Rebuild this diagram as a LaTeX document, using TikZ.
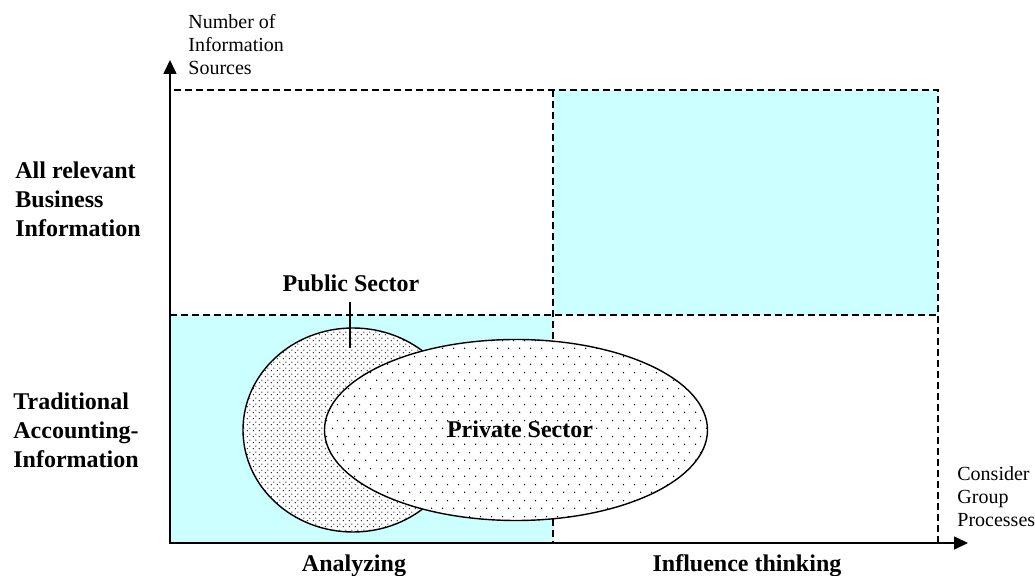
\documentclass[tikz,border=0pt]{standalone}
\usepackage{fontspec}
\setmainfont{Liberation Serif}
\usepackage{xcolor}
\usepackage{tikz}
\usetikzlibrary{arrows.meta, patterns.meta, shapes.geometric}

\definecolor{paleCyan}{RGB}{204,255,255}

% dot fillings for the two sectors
\tikzdeclarepattern{
  name=densedots,
  bottom left={(0pt,0pt)}, top right={(3pt,3pt)}, tile size={(3pt,3pt)},
  code={\fill (0.75pt,0.75pt) circle (0.42pt); \fill (2.25pt,2.25pt) circle (0.42pt);}
}
\tikzdeclarepattern{
  name=sparsedots,
  bottom left={(0pt,0pt)}, top right={(5.5pt,8pt)}, tile size={(5.5pt,8pt)},
  code={\fill (1.4pt,2pt) circle (0.4pt); \fill (4.1pt,6pt) circle (0.4pt);}
}

\begin{document}
\begin{tikzpicture}[
    x=0.5pt, y=-0.5pt,
    cell/.style={fill=paleCyan, draw=none},
    gridline/.style={dashed, dash pattern=on 3.5pt off 2pt, line width=0.6pt, draw=black},
    axis/.style={line width=0.8pt, -{Triangle[length=7pt,width=6.5pt]}},
    sector/.style={ellipse, draw=black, line width=0.7pt, inner sep=0pt, preaction={fill=white}},
    biglabel/.style={font=\fontsize{12}{14.5}\selectfont\bfseries, inner sep=0pt},
    smalllabel/.style={font=\fontsize{10}{11.5}\selectfont, align=left, inner sep=0pt}
]
    \useasboundingbox (0,0) rectangle (1035,576);

    % Quadrants
    \fill[cell] (553,90) rectangle (938,315);
    \fill[cell] (170,315) rectangle (553,543);
    \draw[gridline] (170,90) rectangle (938,543);
    \draw[gridline] (170,315) -- (938,315);
    \draw[gridline] (553,90) -- (553,543);

    % Axes
    \coordinate (origin) at (170,543);
    \coordinate (ytip) at (170,60);
    \coordinate (xtip) at (968,543);
    \draw[axis] (origin) -- (ytip);
    \draw[axis] (origin) -- (xtip);

    % Sectors (sizes in pt, i.e. half the picture units)
    \node (public) [sector, minimum width=110pt, minimum height=102pt, pattern=densedots, pattern color=black!85] at (353,430) {};
    \node (private) [sector, minimum width=191.5pt, minimum height=90.5pt, pattern=sparsedots] at (516,430) {};
    \node (privtxt) [biglabel, anchor=base] at (520,438) {Private Sector};
    \node (pubtxt) [biglabel, anchor=base] at (351,292) {Public Sector};
    \coordinate (pubtop) at (350,302);
    \coordinate (pubtip) at (350,348);
    \draw[line width=0.6pt] (pubtop) -- (pubtip);

    % Axis labels
    \node (ysrc) [smalllabel, anchor=north west] at (188,14) {Number of\\Information\\Sources};
    \node (xgrp) [smalllabel, anchor=north west] at (957,466) {Consider\\Group\\Processes};
    \node (allinfo) [biglabel, align=left, anchor=north west] at (15,161) {All relevant\\Business\\Information};
    \node (tradinfo) [biglabel, align=left, anchor=north west] at (13,392) {Traditional\\Accounting-\\Information};
    \node (analyze) [biglabel, anchor=base] at (354,572) {Analyzing};
    \node (influence) [biglabel, anchor=base] at (747,572) {Influence thinking};

\end{tikzpicture}
\end{document}
